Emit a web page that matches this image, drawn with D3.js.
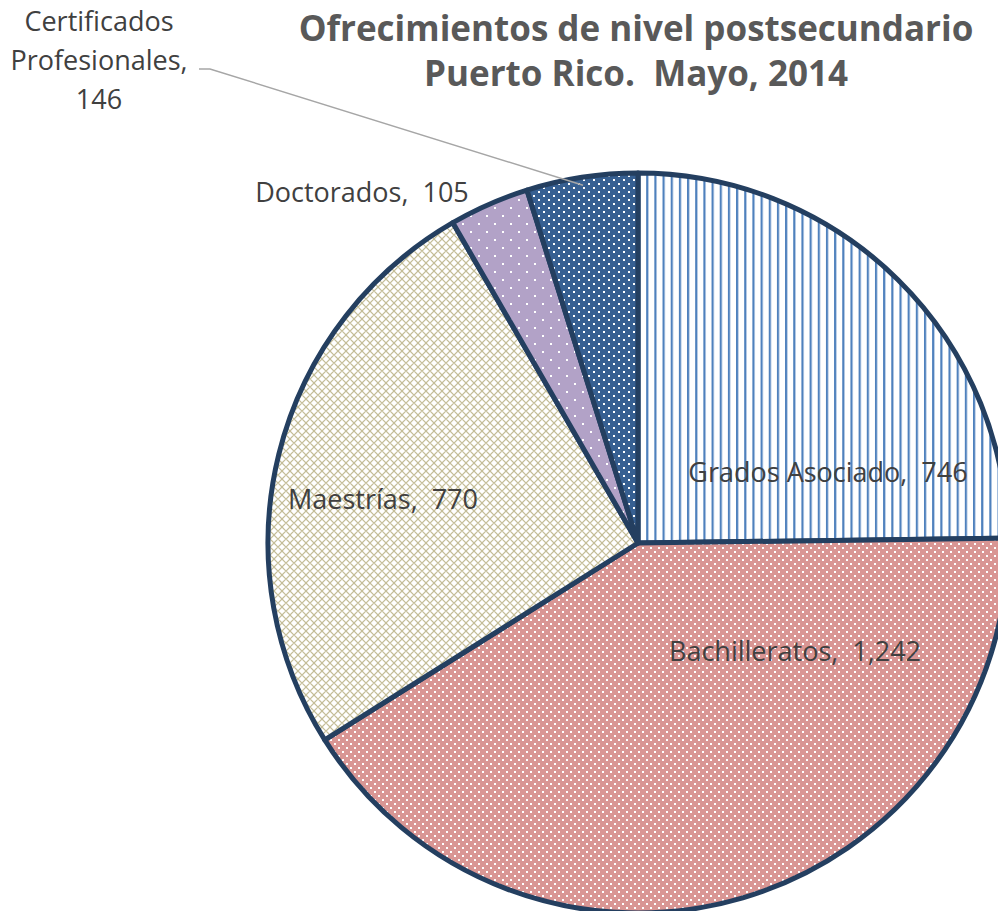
<!DOCTYPE html>
<html><head><meta charset="utf-8">
<script src="https://cdn.jsdelivr.net/npm/d3@7"></script>
<style>body{margin:0;background:#fff}svg{display:block}text{white-space:pre}</style>
</head><body>
<script>
const categories = ["Grados Asociado", "Bachilleratos", "Maestrías", "Doctorados", "Certificados Profesionales"];
const values = [746, 1242, 770, 105, 146];
const titleLines = ["Ofrecimientos de nivel postsecundario", "Puerto Rico.  Mayo, 2014"];

const W = 998, H = 911;
const cx = 638, cy = 543, R = 370;
const FONT = "'Open Sans', Lato, sans-serif";
const svg = d3.select("body").append("svg").attr("width", W).attr("height", H);
const defs = svg.append("defs");

// patterns
let p = defs.append("pattern").attr("id","pGrados").attr("patternUnits","userSpaceOnUse").attr("width",8.17).attr("height",8);
p.append("rect").attr("width",8.17).attr("height",8).attr("fill","#fff");
p.append("rect").attr("x",0).attr("width",2.2).attr("height",8).attr("fill","#4f81bd");

p = defs.append("pattern").attr("id","pBach").attr("patternUnits","userSpaceOnUse").attr("width",8).attr("height",8);
p.append("rect").attr("width",8).attr("height",8).attr("fill","#d99694");
p.append("rect").attr("x",0).attr("y",0).attr("width",2).attr("height",2).attr("fill","#fff");
p.append("rect").attr("x",4).attr("y",4).attr("width",2).attr("height",2).attr("fill","#fff");

p = defs.append("pattern").attr("id","pMaes").attr("patternUnits","userSpaceOnUse").attr("width",8).attr("height",8);
p.append("rect").attr("width",8).attr("height",8).attr("fill","#fff");
p.append("path").attr("d","M0,4 L4,0 L8,4 L4,8 Z").attr("fill","none").attr("stroke","#c4bd97").attr("stroke-width",1.2);

p = defs.append("pattern").attr("id","pDoc").attr("patternUnits","userSpaceOnUse").attr("width",16).attr("height",16);
p.append("rect").attr("width",16).attr("height",16).attr("fill","#b2a2c7");
p.append("rect").attr("x",0).attr("y",0).attr("width",2).attr("height",2).attr("fill","#fff");
p.append("rect").attr("x",8).attr("y",8).attr("width",2).attr("height",2).attr("fill","#fff");

p = defs.append("pattern").attr("id","pCert").attr("patternUnits","userSpaceOnUse").attr("width",10).attr("height",8);
p.append("rect").attr("width",10).attr("height",8).attr("fill","#376092");
p.append("rect").attr("x",0).attr("y",0).attr("width",2).attr("height",2).attr("fill","#fff");
p.append("rect").attr("x",5).attr("y",4).attr("width",2).attr("height",2).attr("fill","#fff");

const fills = ["url(#pGrados)","url(#pBach)","url(#pMaes)","url(#pDoc)","url(#pCert)"];

const data = categories.map((c,i)=>({cat:c, value:values[i], fill:fills[i]}));
const pie = d3.pie().sort(null).value(d=>d.value);
const arcs = pie(data);
const arc = d3.arc().innerRadius(0).outerRadius(R);

const g = svg.append("g").attr("transform",`translate(${cx},${cy})`);
g.selectAll("path").data(arcs).join("path")
  .attr("d", arc).attr("fill", d=>d.data.fill)
  .attr("stroke","#243f60").attr("stroke-width",5).attr("stroke-linejoin","round");

// title
svg.append("g").selectAll("text").data(titleLines).join("text")
  .attr("x",636).attr("y",(d,i)=>41+i*45)
  .attr("text-anchor","middle").attr("font-family",FONT)
  .attr("font-weight","bold").attr("font-size",35).attr("fill","#595959").text(d=>d);

// labels
const fmt = d3.format(",");
const labelOff = [[190,-70],[157,109],[-255,-43],[-276,-350]];
const lab = svg.append("g").attr("font-family",FONT).attr("font-size",27).attr("fill","#404040").attr("text-anchor","middle");
arcs.slice(0,4).forEach((a,i)=>{
  lab.append("text").attr("x",cx+labelOff[i][0]).attr("y",cy+labelOff[i][1]+9)
    .text(a.data.cat+",  "+fmt(a.data.value));
});
// certificados label with leader line
const cert = arcs[4];
const certLines = ["Certificados","Profesionales,",fmt(cert.data.value)];
lab.selectAll(".cl").data(certLines).join("text").attr("class","cl")
  .attr("x",99).attr("y",(d,i)=>31+i*39).text(d=>d);
const ang = (cert.startAngle+cert.endAngle)/2;
const ex = cx + (R-8)*Math.sin(ang), ey = cy - (R-8)*Math.cos(ang);
svg.append("path").attr("d",`M199,69 L210,69 L${ex},${ey}`).attr("fill","none").attr("stroke","#a6a6a6").attr("stroke-width",1.5);
</script>
</body></html>
